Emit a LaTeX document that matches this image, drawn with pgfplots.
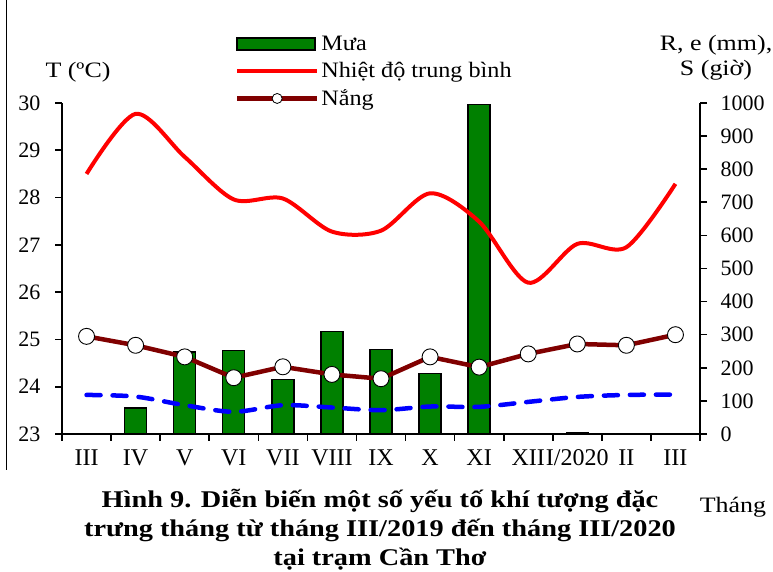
\documentclass[border=0pt]{standalone}
\usepackage{fontspec}
\setmainfont{Liberation Serif}
\newfontfamily\wide{Liberation Serif}[FakeStretch=1.18]
\newfontfamily\legwide{Liberation Serif}[FakeStretch=1.1]
\usepackage{pgfplots}
\pgfplotsset{compat=1.18}
\definecolor{rain}{RGB}{0,128,0}
\definecolor{sun}{RGB}{128,0,0}
\begin{document}
\begin{tikzpicture}
\pgfplotsset{
  common/.style={
    at={(62pt,138pt)}, anchor=south west, scale only axis,
    width=638pt, height=331pt,
    xmin=-0.5, xmax=12.5,
    axis line style={line width=1.6pt},
    tick style={line width=1.6pt, black},
    major tick length=7pt,
    tick align=outside,
    ticklabel style={font=\fontsize{22}{26}\selectfont},
    /pgf/number format/assume math mode=true,
    clip=false,
  }
}
\begin{axis}[common,
  axis y line*=right, axis x line*=bottom,
  ymin=0, ymax=1000, ytick={0,100,...,1000},
  yticklabel style={/pgf/number format/1000 sep={}, xshift=10pt},
  xtick={-0.5,0.5,...,12.5}, xticklabels={},
  extra x ticks={0,1,2,3,4,5,6,7,8,9,10,11,12},
  extra x tick labels={III,IV,V,VI,VII,VIII,IX,X,XI,XII,I/2020,II,III},
  extra x tick style={major tick length=0pt, ticklabel style={font=\fontsize{24}{28}\selectfont, yshift=-12pt}},
]
\addplot[ybar, bar width=22pt, fill=rain, draw=black, line width=1.4pt]
  coordinates {(0,0) (1,78) (2,248) (3,252) (4,164) (5,309) (6,255) (7,183) (8,995) (9,0) (10,3) (11,0) (12,0)};
\addplot[blue, line width=4.5pt, dash pattern=on 14pt off 12pt, line cap=round, smooth]
  coordinates {(0,118) (1,113) (2,87) (3,67) (4,87) (5,80) (6,72) (7,83) (8,82) (9,97) (10,112) (11,118) (12,119)};
\addplot[sun, line width=4.5pt, mark=*, mark size=8pt,
  mark options={solid, fill=white, draw=black, line width=0.9pt}]
  coordinates {(0,295) (1,268) (2,233) (3,170) (4,203) (5,180) (6,167) (7,233) (8,202) (9,242) (10,272) (11,268) (12,300)};
\end{axis}
\begin{axis}[common,
  axis y line*=left, axis x line=none,
  ymin=23, ymax=30, ytick={23,24,...,30},
  yticklabel style={xshift=-11pt},
  legend style={at={(0.266,1.215)}, anchor=north west, draw=none, fill=none,
    font=\legwide\fontsize{22}{26}\selectfont, row sep=6.5pt},
  legend cell align=left,
]
\addlegendimage{legend image code/.code={\draw[fill=rain, draw=black, line width=1.4pt] (0pt,-6pt) rectangle (78pt,6pt);}}
\addlegendentry{Mưa}
\addlegendimage{legend image code/.code={\draw[red, line width=4pt] (0pt,0pt) -- (80pt,0pt);}}
\addlegendentry{Nhiệt độ trung bình}
\addlegendimage{legend image code/.code={\draw[sun, line width=4.5pt] (0pt,0pt) -- (80pt,0pt); \draw[fill=white, draw=black, line width=0.8pt] (40pt,0pt) circle (5pt);}}
\addlegendentry{Nắng}
\addplot[red, line width=4pt, smooth, forget plot]
  coordinates {(0,28.5) (1,29.77) (2,28.86) (3,27.96) (4,27.98) (5,27.28) (6,27.3) (7,28.09) (8,27.49) (9,26.2) (10,27.02) (11,26.95) (12,28.29)};
\end{axis}
\node[font=\wide\fontsize{22}{26}\selectfont] at (78pt,500pt) {T (ºC)};
\node[align=center, font=\wide\fontsize{22}{25}\selectfont] at (716pt,514pt) {R, e (mm),\\ S (giờ)};
\node[font=\wide\fontsize{22}{26}\selectfont] at (733pt,65pt) {Tháng};
\node[align=center, font=\wide\bfseries\fontsize{24}{29}\selectfont] at (380pt,42pt)
  {Hình 9. Diễn biến một số yếu tố khí tượng đặc\\ trưng tháng từ tháng III/2019 đến tháng III/2020\\ tại trạm Cần Thơ};
\draw[line width=1.2pt] (6.5pt,572pt) -- (6.5pt,102pt);
\pgfresetboundingbox
\path (0pt,0pt) rectangle (773pt,572pt);
\end{tikzpicture}
\end{document}
